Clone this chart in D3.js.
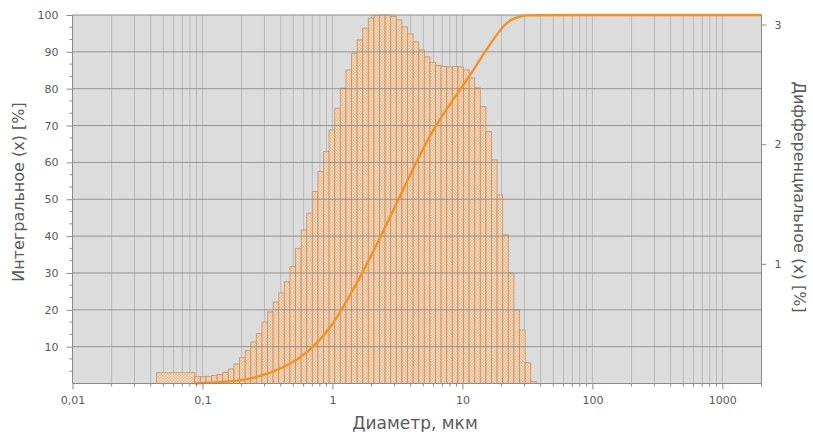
<!DOCTYPE html>
<html>
<head>
<meta charset="utf-8">
<script src="https://cdn.jsdelivr.net/npm/d3@7"></script>
<style>
  body { margin: 0; background: #fff; }
  text { font-family: "DejaVu Sans", Verdana, sans-serif; fill: #5a5a5a; }
</style>
</head>
<body>
<svg id="chart" width="813" height="432"></svg>
<script>
// Channel boundaries of the particle-size analyser, µm (first channel is the wide 0.044–0.087 one)
const binEdges = [
  0.0443, 0.0873, 0.0964, 0.1064, 0.1175, 0.1298, 0.1433, 0.1582, 0.1747, 0.1929, 0.2131,
  0.2353, 0.2598, 0.2869, 0.3168, 0.3499, 0.3863, 0.4266, 0.4711, 0.5202, 0.5745,
  0.6343, 0.7005, 0.7735, 0.8542, 0.9432, 1.0416, 1.1502, 1.2701, 1.4025, 1.5488,
  1.7103, 1.8886, 2.0855, 2.3029, 2.5430, 2.8082, 3.1010, 3.4244, 3.7814, 4.1757,
  4.6111, 5.0919, 5.6228, 6.2091, 6.8565, 7.5714, 8.3608, 9.2326, 10.197, 11.261,
  12.434, 13.731, 15.163, 16.744, 18.490, 20.418, 22.547, 24.898, 27.494, 30.361,
  33.526, 37.022
];

// Differential distribution per channel, %
const diffValues = [
  0.09,
  0.057, 0.057, 0.060, 0.067, 0.075, 0.092, 0.121, 0.163, 0.217, 0.276,
  0.347, 0.418, 0.514, 0.598, 0.681, 0.757, 0.851, 0.977, 1.130, 1.283,
  1.423, 1.604, 1.771, 1.938, 2.120, 2.301, 2.468, 2.621, 2.761, 2.872,
  2.970, 3.054, 3.077, 3.080, 3.080, 3.069, 3.039, 2.981, 2.922, 2.855,
  2.788, 2.730, 2.684, 2.659, 2.650, 2.646, 2.650, 2.646, 2.621, 2.554,
  2.471, 2.314, 2.105, 1.869, 1.576, 1.242, 0.924, 0.615, 0.447, 0.174,
  0.017
];

// Integral (cumulative) distribution, %
const cumDiameters = [0.0873, 0.136, 0.1936, 0.25, 0.347, 0.425, 0.56, 0.731, 0.953, 1.243,
  1.936, 3.474, 4.694, 6.343, 9.53, 11.38, 15.38, 21.15, 25.25, 31.2, 40, 2000];
const cumValues = [0, 0.35, 0.8, 1.5, 3.1, 4.5, 6.8, 10.3, 14.8, 21.3,
  33.5, 52.5, 62, 70.7, 79.6, 83.5, 90.8, 97.8, 99.3, 100, 100, 100];

const xTicks = [0.01, 0.1, 1, 10, 100, 1000];
const xTickLabels = ["0,01", "0,1", "1", "10", "100", "1000"];
const leftTicks = [10, 20, 30, 40, 50, 60, 70, 80, 90, 100];
const rightTicks = [1, 2, 3];

const svg = d3.select("#chart");
const L = 72.5, R = 761.5, T = 15, B = 383.5;

const x = d3.scaleLog().domain([0.01, 2000]).range([L, R]);
const yL = d3.scaleLinear().domain([0, 100]).range([B, T]);
const yR = d3.scaleLinear().domain([0, d3.max(diffValues)]).range([B, T]);

// hatch fill for the histogram bars
const defs = svg.append("defs");
const pat = defs.append("pattern").attr("id", "hatch")
  .attr("patternUnits", "userSpaceOnUse").attr("width", 3).attr("height", 3);
pat.append("rect").attr("width", 3).attr("height", 3).attr("fill", "#f5dcc3");
pat.append("rect").attr("x", 0).attr("y", 0).attr("width", 1.5).attr("height", 1.5).attr("fill", "#e9bd93");
pat.append("rect").attr("x", 1.5).attr("y", 1.5).attr("width", 1.5).attr("height", 1.5).attr("fill", "#e9bd93");

// plot background
svg.append("rect").attr("x", L).attr("y", T).attr("width", R - L).attr("height", B - T)
  .attr("fill", "#dcdcdc");

// vertical log grid
const vGrid = [];
for (let e = -2; e <= 3; e++) for (let m = 1; m <= 9; m++) {
  const v = m * Math.pow(10, e);
  if (v >= 0.01 && v <= 2000) vGrid.push(v);
}
svg.append("g").selectAll("line").data(vGrid).join("line")
  .attr("x1", d => x(d)).attr("x2", d => x(d)).attr("y1", T).attr("y2", B)
  .attr("stroke", "#bababa").attr("stroke-width", 1);

// histogram bars
const bars = diffValues.map((v, i) => ({ x0: binEdges[i], x1: binEdges[i + 1], v }));
svg.append("g").selectAll("rect").data(bars).join("rect")
  .attr("x", d => x(d.x0)).attr("width", d => x(d.x1) - x(d.x0))
  .attr("y", d => yR(d.v)).attr("height", d => yR(0) - yR(d.v))
  .attr("fill", "url(#hatch)").attr("stroke", "#c98c58").attr("stroke-width", 0.9)
  .attr("stroke-opacity", 0.85);

// horizontal grid
svg.append("g").selectAll("line").data(leftTicks.slice(0, -1)).join("line")
  .attr("x1", L).attr("x2", R).attr("y1", d => yL(d)).attr("y2", d => yL(d))
  .attr("stroke", "#7f7f7f").attr("stroke-opacity", 0.75).attr("stroke-width", 1);

// frame
svg.append("line").attr("x1", L).attr("x2", R).attr("y1", T).attr("y2", T).attr("stroke", "#8c8c8c");

// cumulative curve
const line = d3.line().x(d => x(d[0])).y(d => yL(d[1])).curve(d3.curveBasis);
svg.append("path").datum(cumDiameters.map((d, i) => [d, cumValues[i]]))
  .attr("d", line).attr("fill", "none").attr("stroke", "#f29225").attr("stroke-width", 2.4);

// left axis
const leftAxis = d3.axisLeft(yL).tickValues(leftTicks).tickSize(6).tickPadding(8).tickFormat(d3.format("d"));
const gL = svg.append("g").attr("transform", `translate(${L},0)`).call(leftAxis);
const minorL = d3.range(0, 100, 10 / 3).filter(v => Math.abs(v % 10) > 0.01 && Math.abs(v % 10 - 10) > 0.01);
gL.selectAll(".minor").data(minorL).join("line").attr("class", "minor")
  .attr("x1", -3).attr("x2", 0).attr("y1", d => yL(d)).attr("y2", d => yL(d)).attr("stroke", "#8c8c8c");

// right axis
const rightAxis = d3.axisRight(yR).tickValues(rightTicks).tickSize(5).tickPadding(8).tickFormat(d3.format("d"));
const gR = svg.append("g").attr("transform", `translate(${R},0)`).call(rightAxis);

// bottom axis
const bottomAxis = d3.axisBottom(x).tickValues(xTicks).tickSize(6).tickPadding(7)
  .tickFormat((d, i) => xTickLabels[i]);
const gB = svg.append("g").attr("transform", `translate(0,${B})`).call(bottomAxis);
gB.selectAll(".minor").data(vGrid.filter(v => !xTicks.includes(v))).join("line").attr("class", "minor")
  .attr("x1", d => x(d)).attr("x2", d => x(d)).attr("y1", 0).attr("y2", 3).attr("stroke", "#8c8c8c");

[gL, gR, gB].forEach(g => {
  g.select(".domain").attr("stroke", "#8c8c8c");
  g.selectAll(".tick line").attr("stroke", "#8c8c8c");
  g.selectAll(".tick text").attr("font-size", 11).attr("fill", "#5a5a5a")
    .style("font-family", "'DejaVu Sans', Verdana, sans-serif");
});
gL.select(".domain").attr("d", `M0,${T}V${B}`);
gR.select(".domain").attr("d", `M0,${T}V${B}`);
gB.select(".domain").attr("d", `M${L},0H${R}`);

// axis titles
svg.append("text").attr("transform", `translate(24,192) rotate(-90)`)
  .attr("text-anchor", "middle").attr("font-size", 16).text("Интегральное (x) [%]");
svg.append("text").attr("transform", `translate(794,197) rotate(90)`)
  .attr("text-anchor", "middle").attr("font-size", 16).text("Дифференциальное (x) [%]");
svg.append("text").attr("x", 415).attr("y", 429)
  .attr("text-anchor", "middle").attr("font-size", 17).text("Диаметр, мкм");
</script>
</body>
</html>
